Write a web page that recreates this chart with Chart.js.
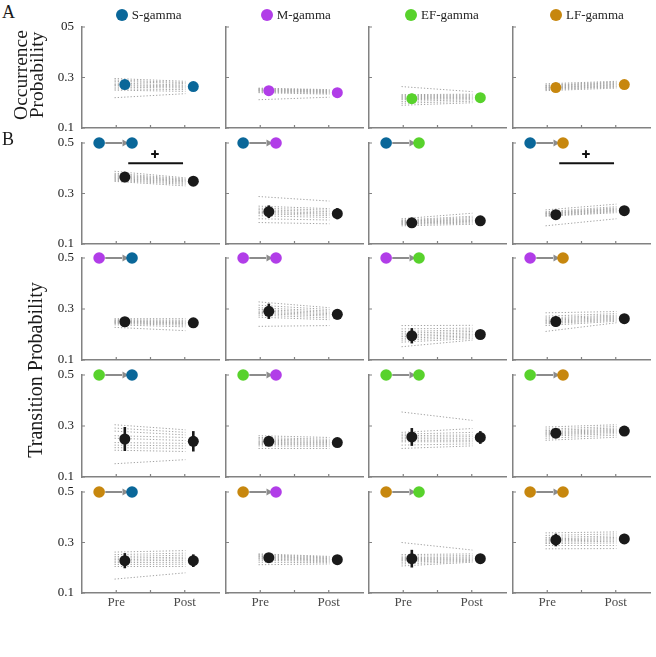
<!DOCTYPE html>
<html>
<head>
<meta charset="utf-8">
<script src="https://cdn.jsdelivr.net/npm/chart.js@4.4.0/dist/chart.umd.min.js"></script>
<style>
  html, body { margin: 0; padding: 0; background: #fff; overflow: hidden; }
  body { width: 656px; height: 657px; position: relative; font-family: 'Liberation Serif', 'Times New Roman', serif; color: #1a1a1a; }
  canvas { position: absolute; }
  .txt { position: absolute; white-space: nowrap; }
  .rot { position: absolute; white-space: nowrap; text-align: center; transform: translate(-50%, -50%) rotate(-90deg); }
  .dot { position: absolute; width: 12px; height: 12px; border-radius: 50%; transform: translate(-50%, -50%); }
</style>
</head>
<body>
<script>
// ---- data -------------------------------------------------------------
const groups = ['S-gamma', 'M-gamma', 'EF-gamma', 'LF-gamma'];
const groupColors = ['#0a6799', '#b13de8', '#58d22c', '#c7870e'];

const occYTicks = ['0.1', '0.3', '05'];
const transYTicks = ['0.1', '0.3', '0.5'];
const xTickLabels = ['Pre', '', 'Post'];

// A: occurrence probability, one value per state
const occPreMean  = [0.272, 0.248, 0.216, 0.260];
const occPostMean = [0.264, 0.240, 0.220, 0.272];
const occPreErr   = [0.018, 0.008, 0.020, 0.010];
const occPostErr  = [0.015, 0.007, 0.010, 0.008];
const occPreSubj = [
  [0.296, 0.290, 0.285, 0.278, 0.272, 0.268, 0.262, 0.255, 0.250, 0.220],
  [0.258, 0.256, 0.254, 0.252, 0.250, 0.248, 0.246, 0.243, 0.240, 0.212],
  [0.264, 0.232, 0.228, 0.224, 0.220, 0.216, 0.212, 0.205, 0.198, 0.190],
  [0.275, 0.270, 0.268, 0.265, 0.262, 0.260, 0.258, 0.255, 0.252, 0.248]
];
const occPostSubj = [
  [0.285, 0.280, 0.276, 0.270, 0.266, 0.262, 0.258, 0.252, 0.245, 0.236],
  [0.252, 0.250, 0.248, 0.246, 0.244, 0.242, 0.240, 0.237, 0.234, 0.222],
  [0.244, 0.234, 0.230, 0.226, 0.222, 0.219, 0.216, 0.212, 0.206, 0.200],
  [0.285, 0.282, 0.279, 0.276, 0.273, 0.270, 0.267, 0.264, 0.262, 0.258]
];

// B: transition probability, rows = from state, columns = to state
const transPreMean  = [[0.365, 0.228, 0.184, 0.216], [0.250, 0.291, 0.195, 0.251], [0.249, 0.240, 0.257, 0.272], [0.228, 0.240, 0.236, 0.310]];
const transPostMean = [[0.349, 0.220, 0.192, 0.232], [0.246, 0.279, 0.200, 0.262], [0.240, 0.235, 0.255, 0.280], [0.228, 0.232, 0.236, 0.314]];
const transPreErr   = [[0.008, 0.025, 0.006, 0.008], [0.008, 0.030, 0.030, 0.020], [0.047, 0.010, 0.035, 0.010], [0.030, 0.015, 0.035, 0.025]];
const transPostErr  = [[0.006, 0.022, 0.008, 0.008], [0.006, 0.020, 0.015, 0.010], [0.040, 0.008, 0.025, 0.008], [0.025, 0.008, 0.010, 0.020]];

// subject lines per from-state (4 target panels x 10 subjects)
const fromSPre = [
  [0.388, 0.380, 0.375, 0.371, 0.367, 0.363, 0.360, 0.356, 0.352, 0.348],
  [0.288, 0.250, 0.242, 0.236, 0.230, 0.225, 0.220, 0.212, 0.200, 0.185],
  [0.200, 0.195, 0.192, 0.190, 0.188, 0.185, 0.182, 0.180, 0.177, 0.172],
  [0.235, 0.228, 0.225, 0.222, 0.220, 0.218, 0.215, 0.212, 0.210, 0.172]
];
const fromSPost = [
  [0.362, 0.358, 0.355, 0.352, 0.350, 0.347, 0.344, 0.340, 0.336, 0.330],
  [0.270, 0.240, 0.234, 0.228, 0.222, 0.218, 0.212, 0.205, 0.195, 0.180],
  [0.222, 0.210, 0.205, 0.200, 0.196, 0.193, 0.190, 0.187, 0.183, 0.178],
  [0.258, 0.248, 0.243, 0.240, 0.237, 0.234, 0.231, 0.228, 0.224, 0.200]
];
const fromMPre = [
  [0.262, 0.258, 0.255, 0.252, 0.250, 0.248, 0.246, 0.243, 0.238, 0.228],
  [0.328, 0.315, 0.305, 0.298, 0.292, 0.287, 0.282, 0.276, 0.268, 0.232],
  [0.235, 0.222, 0.212, 0.205, 0.198, 0.192, 0.185, 0.178, 0.170, 0.152],
  [0.285, 0.272, 0.265, 0.260, 0.255, 0.250, 0.246, 0.242, 0.235, 0.212]
];
const fromMPost = [
  [0.262, 0.256, 0.252, 0.249, 0.246, 0.243, 0.240, 0.236, 0.230, 0.215],
  [0.305, 0.298, 0.292, 0.287, 0.282, 0.277, 0.272, 0.265, 0.258, 0.235],
  [0.236, 0.225, 0.218, 0.212, 0.206, 0.200, 0.195, 0.190, 0.184, 0.178],
  [0.290, 0.282, 0.276, 0.272, 0.268, 0.264, 0.260, 0.256, 0.252, 0.246]
];
const fromEFPre = [
  [0.305, 0.292, 0.280, 0.262, 0.252, 0.235, 0.225, 0.215, 0.205, 0.152],
  [0.262, 0.255, 0.250, 0.245, 0.240, 0.236, 0.232, 0.228, 0.222, 0.212],
  [0.355, 0.275, 0.268, 0.262, 0.256, 0.250, 0.244, 0.238, 0.225, 0.212],
  [0.296, 0.288, 0.282, 0.277, 0.273, 0.269, 0.265, 0.260, 0.252, 0.244]
];
const fromEFPost = [
  [0.285, 0.275, 0.265, 0.255, 0.243, 0.232, 0.222, 0.212, 0.200, 0.168],
  [0.255, 0.248, 0.243, 0.239, 0.235, 0.232, 0.228, 0.225, 0.220, 0.212],
  [0.322, 0.290, 0.275, 0.265, 0.258, 0.250, 0.244, 0.238, 0.230, 0.222],
  [0.305, 0.298, 0.292, 0.287, 0.283, 0.279, 0.275, 0.270, 0.264, 0.256]
];
const fromLFPre = [
  [0.262, 0.252, 0.244, 0.238, 0.232, 0.226, 0.220, 0.213, 0.205, 0.155],
  [0.255, 0.252, 0.248, 0.245, 0.242, 0.238, 0.235, 0.230, 0.222, 0.212],
  [0.300, 0.252, 0.246, 0.240, 0.236, 0.232, 0.228, 0.222, 0.215, 0.207],
  [0.338, 0.328, 0.320, 0.314, 0.310, 0.306, 0.301, 0.296, 0.288, 0.275]
];
const fromLFPost = [
  [0.268, 0.258, 0.250, 0.242, 0.236, 0.230, 0.222, 0.214, 0.205, 0.180],
  [0.245, 0.242, 0.239, 0.236, 0.233, 0.230, 0.227, 0.224, 0.220, 0.215],
  [0.270, 0.255, 0.248, 0.243, 0.239, 0.235, 0.232, 0.229, 0.226, 0.222],
  [0.342, 0.334, 0.326, 0.320, 0.315, 0.310, 0.305, 0.298, 0.288, 0.276]
];
const transPreSubj  = [fromSPre, fromMPre, fromEFPre, fromLFPre];
const transPostSubj = [fromSPost, fromMPost, fromEFPost, fromLFPost];

// panels (from, to) with a "+" trend marker
const sigPanels = [[0, 0], [0, 3]];

// ---- layout -----------------------------------------------------------
const FONT = "'Liberation Serif', 'Times New Roman', serif";
const AXIS = '#828282';
const MEAN_BLACK = '#1a1a1a';
const colX = [82, 226, 369, 513];
const rowTop = [27, 143, 258, 375, 492];
const rowBottom = [128, 244, 360, 477, 593];
const PLOT_W = 137;
const PAD_L = 45, PAD_T = 12, PAD_R = 12, PAD_B = 26;
const PRE_X = 1.25, POST_X = 3.25;

const inwardTicks = {
  id: 'inwardTicks',
  beforeDatasetsDraw(chart) {
    const { ctx, chartArea, scales: { x, y } } = chart;
    ctx.save();
    ctx.strokeStyle = AXIS;
    ctx.lineWidth = 1.2;
    ctx.beginPath();
    x.ticks.forEach(t => {
      const px = x.getPixelForValue(t.value);
      ctx.moveTo(px, chartArea.bottom);
      ctx.lineTo(px, chartArea.bottom - 3);
    });
    y.ticks.forEach(t => {
      const py = y.getPixelForValue(t.value);
      ctx.moveTo(chartArea.left, py);
      ctx.lineTo(chartArea.left + 3, py);
    });
    ctx.stroke();
    ctx.restore();
  }
};

function buildPanel(p) {
  const cv = document.createElement('canvas');
  const h = rowBottom[p.row] - rowTop[p.row];
  cv.width = PAD_L + PLOT_W + PAD_R;
  cv.height = PAD_T + h + PAD_B;
  cv.style.left = (colX[p.col] - PAD_L) + 'px';
  cv.style.top = (rowTop[p.row] - PAD_T) + 'px';
  document.body.appendChild(cv);

  // higher "order" is drawn underneath
  const datasets = [];
  // individual subjects
  p.pre.forEach((v, i) => {
    datasets.push({
      order: 10,
      data: [{ x: 0.95, y: v }, { x: 3.02, y: p.post[i] }],
      showLine: true, borderColor: '#a3a3a3', borderWidth: 1, borderDash: [1.3, 1.9],
      pointRadius: 0, clip: false
    });
  });
  // error bars
  [[PRE_X, p.preMean, p.preErr], [POST_X, p.postMean, p.postErr]].forEach(([x, m, e]) => {
    datasets.push({
      order: 3,
      data: [{ x: x, y: m - e }, { x: x, y: m + e }],
      showLine: true, borderColor: p.color, borderWidth: 2.6, pointRadius: 0, clip: false
    });
  });
  // means
  datasets.push({
    order: 2,
    data: [{ x: PRE_X, y: p.preMean }, { x: POST_X, y: p.postMean }],
    pointRadius: 5.5, pointBackgroundColor: p.color, pointBorderWidth: 0, clip: false
  });
  // transition icon: from -> to
  if (p.icon) {
    datasets.push({
      order: 1,
      data: [{ x: 0.68, y: 0.5 }, { x: 1.17, y: 0.5 }],
      showLine: true, borderColor: '#8c8c8c', borderWidth: 2, pointRadius: 0, clip: false
    });
    datasets.push({
      order: 1,
      data: [{ x: 1.24, y: 0.5 }],
      pointStyle: 'triangle', rotation: 90, pointRadius: 4, pointBackgroundColor: '#8c8c8c',
      pointBorderWidth: 0, clip: false
    });
    datasets.push({
      order: 0,
      data: [{ x: 0.5, y: 0.5 }, { x: 1.46, y: 0.5 }],
      pointRadius: 5.8, pointBackgroundColor: p.icon, pointBorderWidth: 0, clip: false
    });
  }
  // trend marker
  if (p.sig) {
    datasets.push({
      order: 0,
      data: [{ x: 1.35, y: 0.42 }, { x: 2.95, y: 0.42 }],
      showLine: true, borderColor: '#111', borderWidth: 2, pointRadius: 0, clip: false
    });
    datasets.push({
      order: 0,
      data: [{ x: 2.13, y: 0.456 }],
      pointStyle: 'cross', pointRadius: 3.8, pointBorderColor: '#111', pointBorderWidth: 2, clip: false
    });
  }

  new Chart(cv, {
    type: 'scatter',
    data: { datasets },
    options: {
      responsive: false,
      animation: false,
      events: [],
      layout: { padding: { top: PAD_T, right: PAD_R, left: 0, bottom: 0 } },
      plugins: { legend: { display: false }, tooltip: { enabled: false } },
      scales: {
        x: {
          type: 'linear', min: 0, max: 4,
          afterBuildTicks: s => { s.ticks = [1, 2, 3].map(v => ({ value: v })); },
          afterFit: s => { s.height = PAD_B; s.paddingLeft = 0; s.paddingRight = 0; },
          grid: { display: false, drawTicks: false },
          border: { color: AXIS, width: 1.5 },
          ticks: {
            display: p.showX, padding: 2, color: '#4a4a4a', autoSkip: false, maxRotation: 0,
            font: { family: FONT, size: 13 },
            callback: (v, i) => xTickLabels[i]
          }
        },
        y: {
          type: 'linear', min: 0.1, max: 0.5,
          afterBuildTicks: s => { s.ticks = [0.1, 0.3, 0.5].map(v => ({ value: v })); },
          afterFit: s => { s.width = PAD_L; s.paddingTop = 0; s.paddingBottom = 0; },
          grid: { display: false, drawTicks: false },
          border: { color: AXIS, width: 1.5 },
          ticks: {
            display: p.showY, padding: 8, color: '#1a1a1a',
            font: { family: FONT, size: 13 },
            callback: (v, i) => p.yLabels[i]
          }
        }
      }
    },
    plugins: [inwardTicks]
  });
}

// row A
groups.forEach((g, c) => {
  buildPanel({
    row: 0, col: c, color: groupColors[c],
    pre: occPreSubj[c], post: occPostSubj[c],
    preMean: occPreMean[c], postMean: occPostMean[c],
    preErr: occPreErr[c], postErr: occPostErr[c],
    yLabels: occYTicks, showY: c === 0, showX: false
  });
});

// rows B
for (let f = 0; f < 4; f++) {
  for (let t = 0; t < 4; t++) {
    buildPanel({
      row: f + 1, col: t, color: MEAN_BLACK,
      pre: transPreSubj[f][t], post: transPostSubj[f][t],
      preMean: transPreMean[f][t], postMean: transPostMean[f][t],
      preErr: transPreErr[f][t], postErr: transPostErr[f][t],
      yLabels: transYTicks, showY: t === 0, showX: f === 3,
      icon: [groupColors[f], groupColors[t]],
      sig: sigPanels.some(s => s[0] === f && s[1] === t)
    });
  }
}

// ---- text: panel letters, axis titles, legend --------------------------
function addText(html, cls, css) {
  const d = document.createElement('div');
  d.className = cls;
  d.innerHTML = html;
  Object.assign(d.style, css);
  document.body.appendChild(d);
  return d;
}
addText('A', 'txt', { left: '2px', top: '2px', fontSize: '18px' });
addText('B', 'txt', { left: '2px', top: '129px', fontSize: '18px' });
addText('Occurrence<br>Probability', 'rot', { left: '29px', top: '75px', fontSize: '19.5px', lineHeight: '16px' });
addText('Transition Probability', 'rot', { left: '35px', top: '370px', fontSize: '20px', lineHeight: '20px' });

const legendDotX = [121.7, 266.7, 411, 556];
groups.forEach((g, c) => {
  addText('', 'dot', { left: legendDotX[c] + 'px', top: '15px', background: groupColors[c] });
  addText(g, 'txt', { left: (legendDotX[c] + 10) + 'px', top: '6px', fontSize: '13px', lineHeight: '18px', color: '#222' });
});
</script>
</body>
</html>
